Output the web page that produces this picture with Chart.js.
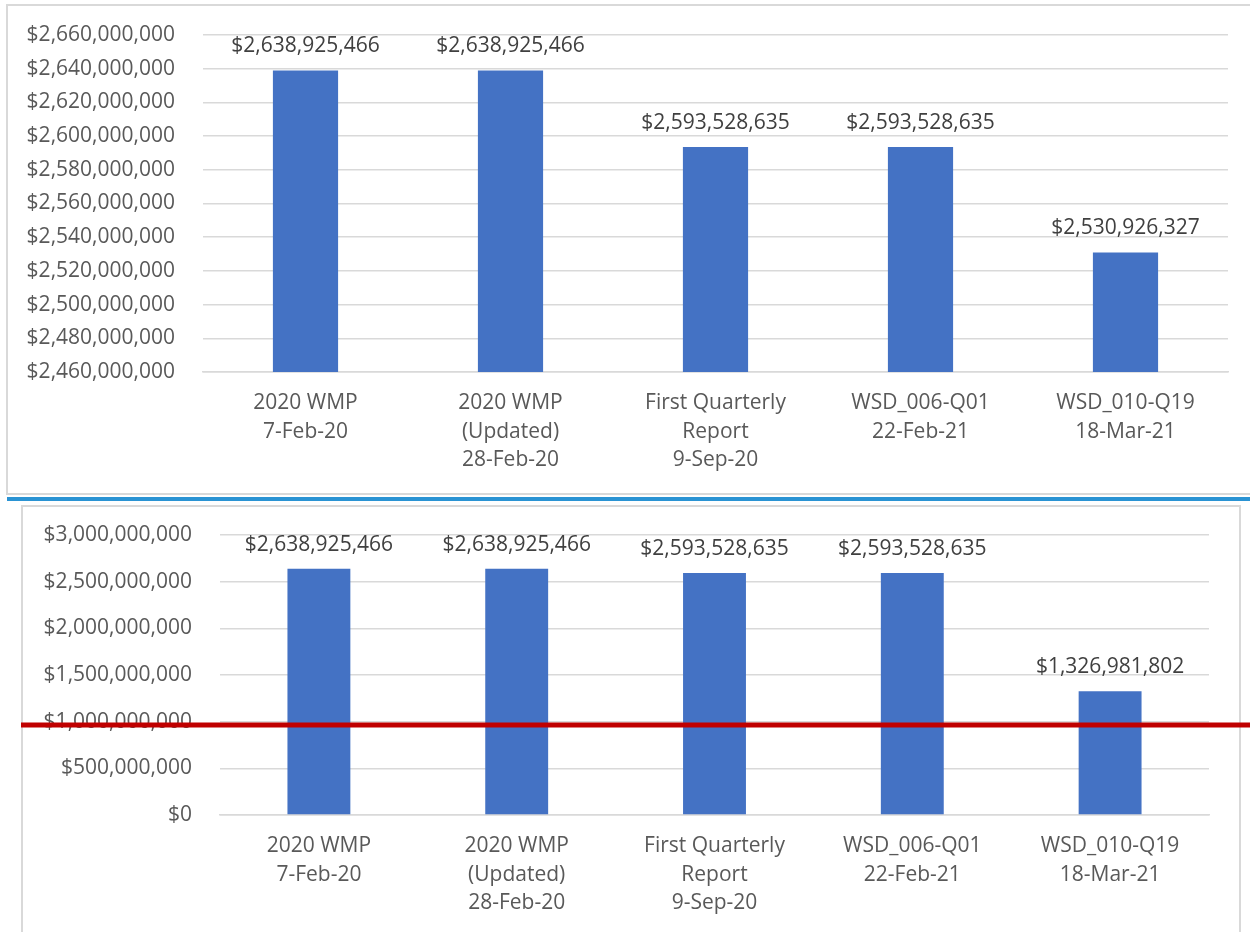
<!DOCTYPE html>
<html>
<head>
<meta charset="utf-8">
<script src="https://cdn.jsdelivr.net/npm/chart.js@4.4.1/dist/chart.umd.min.js"></script>
<style>
  html, body { margin: 0; padding: 0; background: #fff; overflow: hidden; }
  body { width: 1250px; height: 932px; position: relative; }
  .box { position: absolute; border: 2px solid #d9d9d9; box-sizing: border-box; }
  #topBox { left: 6px; top: 4px; width: 1260px; height: 491px; }
  #divider { position: absolute; left: 7px; top: 497px; width: 1243px; height: 4px; background: #2a93d3; }
  #bottomBox { left: 21px; top: 505px; width: 1220px; height: 440px; }
  canvas { position: absolute; left: 0; }
  #topChart { top: 0; }
  #bottomChart { top: 501px; }
</style>
</head>
<body>
<div class="box" id="topBox"></div>
<div id="divider"></div>
<div class="box" id="bottomBox"></div>
<canvas id="topChart" width="1250" height="493"></canvas>
<canvas id="bottomChart" width="1250" height="431"></canvas>
<script>
// Data
const categories = [
    ['2020 WMP', '7-Feb-20'],
    ['2020 WMP', '(Updated)', '28-Feb-20'],
    ['First Quarterly', 'Report', '9-Sep-20'],
    ['WSD_006-Q01', '22-Feb-21'],
    ['WSD_010-Q19', '18-Mar-21']
];
const topValues = [2638925466, 2638925466, 2593528635, 2593528635, 2530926327];
const bottomValues = [2638925466, 2638925466, 2593528635, 2593528635, 1326981802];

const topAxisMin = 2460000000;
const topAxisMax = 2660000000;
const topAxisStep = 20000000;
const bottomAxisMin = 0;
const bottomAxisMax = 3000000000;
const bottomAxisStep = 500000000;

// threshold drawn as the red line on the lower chart
const redLineValue = 965000000;

const barColor = '#4472C4';
const gridColor = '#d9d9d9';
const tickColor = '#595959';
const labelColor = '#404040';
const fontFamily = '"Open Sans", "Noto Sans", sans-serif';

function money(v) {
    return '$' + Number(v).toLocaleString('en-US');
}

// value labels above each bar
const barLabels = {
    id: 'barLabels',
    afterDatasetsDraw(chart) {
        const ctx = chart.ctx;
        const meta = chart.getDatasetMeta(0);
        const values = chart.data.datasets[0].data;
        ctx.save();
        ctx.font = '21px ' + fontFamily;
        ctx.fillStyle = labelColor;
        ctx.textAlign = 'center';
        ctx.textBaseline = 'middle';
        meta.data.forEach((bar, i) => {
            ctx.fillText(money(values[i]), bar.x, bar.y - 24);
        });
        ctx.restore();
    }
};

const redLine = {
    id: 'redLine',
    afterDraw(chart) {
        const y = chart.scales.y.getPixelForValue(redLineValue);
        const ctx = chart.ctx;
        ctx.save();
        ctx.strokeStyle = '#C00000';
        ctx.lineWidth = 5;
        ctx.beginPath();
        ctx.moveTo(21, y);
        ctx.lineTo(chart.width, y);
        ctx.stroke();
        ctx.restore();
    }
};

function makeChart(id, values, yMin, yMax, yStep, yWidth, xHeight, padTop, padRight, extraPlugins) {
    const ctx = document.getElementById(id).getContext('2d');
    return new Chart(ctx, {
        type: 'bar',
        data: {
            labels: categories,
            datasets: [{
                data: values,
                backgroundColor: barColor,
                borderWidth: 0,
                barPercentage: 0.318,
                categoryPercentage: 1.0
            }]
        },
        options: {
            responsive: false,
            animation: false,
            layout: { padding: { top: padTop, right: padRight, left: 0, bottom: 0 } },
            plugins: {
                legend: { display: false },
                tooltip: { enabled: false }
            },
            scales: {
                x: {
                    grid: { display: false, drawTicks: false },
                    border: { display: true, color: gridColor, width: 1.5 },
                    ticks: {
                        color: tickColor,
                        font: { family: fontFamily, size: 21, lineHeight: 1.35 },
                        padding: 17,
                        maxRotation: 0,
                        autoSkip: false
                    },
                    afterFit(scale) { scale.height = xHeight; }
                },
                y: {
                    min: yMin,
                    max: yMax,
                    // invisible tick marks push the labels left without adding top padding
                    grid: { color: gridColor, lineWidth: 1.5, drawTicks: true, tickLength: 28, tickColor: 'rgba(0,0,0,0)' },
                    border: { display: false },
                    ticks: {
                        stepSize: yStep,
                        color: tickColor,
                        font: { family: fontFamily, size: 21 },
                        padding: 0,
                        callback: (v) => money(v)
                    },
                    afterFit(scale) { scale.width = yWidth; }
                }
            }
        },
        plugins: [barLabels].concat(extraPlugins)
    });
}

makeChart('topChart', topValues, topAxisMin, topAxisMax, topAxisStep, 203, 121, 35, 22, []);
makeChart('bottomChart', bottomValues, bottomAxisMin, bottomAxisMax, bottomAxisStep, 220, 117, 34, 41, [redLine]);
</script>
</body>
</html>
